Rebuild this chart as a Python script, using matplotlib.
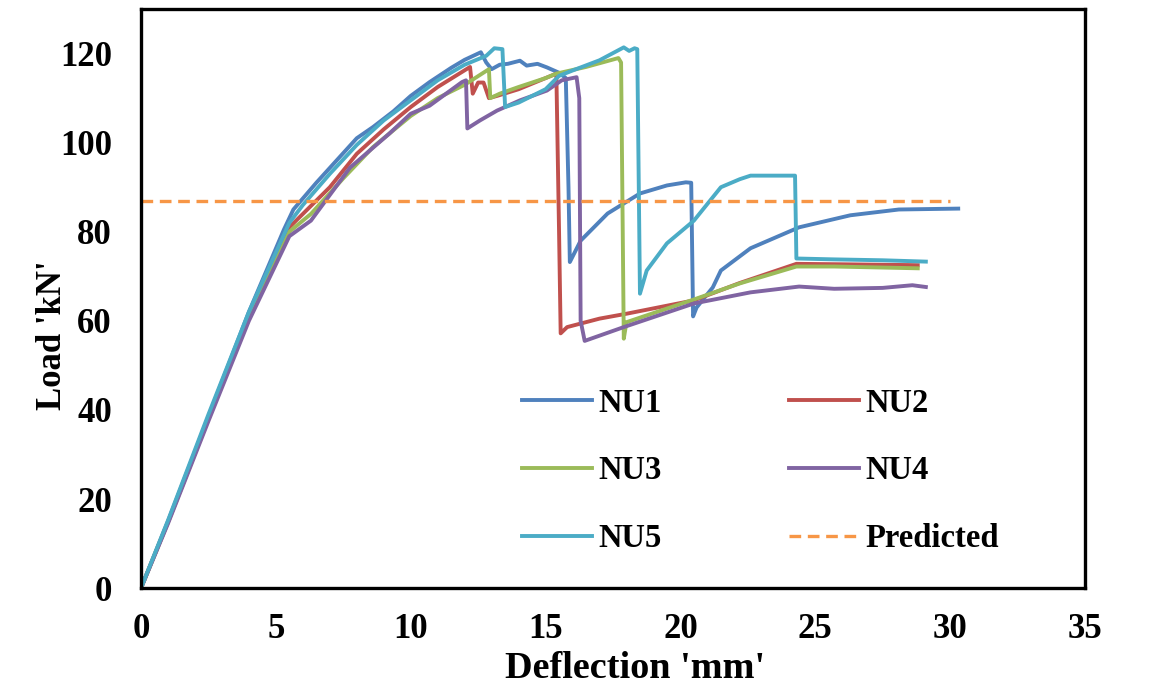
import matplotlib.pyplot as plt

plt.rcParams['font.family'] = ['Liberation Serif', 'DejaVu Serif']
plt.rcParams['font.weight'] = 'bold'

# load-deflection records for the five specimens (mm, kN)
nu1_x = [0, 1, 2.5, 4, 5.3, 5.65, 6.5, 7.4, 8, 8.6, 9.35, 10, 10.7, 11.5, 12, 12.6,
         12.8, 13.0, 13.3, 13.6, 14.05, 14.3, 14.7, 15.05, 15.5, 15.75, 15.85, 15.9,
         16.3, 17.3, 18.5, 19.5, 20.2, 20.4, 20.47, 20.6, 21.2, 21.5, 22.6, 24.4,
         26.3, 28.1, 30.3]
nu1_y = [0, 15, 38.5, 62, 80.5, 85, 91, 97, 101, 103.5, 107, 110.5, 113.6, 116.8, 118.6, 120.3,
         118, 116.5, 117.5, 117.7, 118.4, 117.3, 117.7, 116.9, 115.7, 114.5, 90, 73.2,
         78, 84.1, 88.6, 90.4, 91.1, 91, 61, 63, 67.5, 71.3, 76.3, 81,
         83.7, 85, 85.2]

nu2_x = [0, 1, 2.5, 4, 5.5, 6, 7, 8, 9, 10, 11, 12.2, 12.3, 12.5, 12.7, 12.9,
         13.2, 14, 15, 15.4, 15.5, 15.56, 15.8, 17, 18, 20.5, 22.2, 24.3, 26, 28.8]
nu2_y = [0, 14.8, 38, 61, 81, 84, 90, 97.5, 103, 108, 112.5, 117, 111, 113.5, 113.5, 110,
         110.5, 112, 114.5, 115.5, 80, 57.2, 58.6, 60.5, 61.6, 64.6, 68.5, 72.8, 72.7, 72.5]

nu3_x = [0, 1, 2.5, 4, 5.5, 6.3, 7.5, 8.6, 10, 11, 12, 12.9, 12.95, 13.3, 14, 15,
         15.4, 16.5, 17.7, 17.8, 17.9, 18, 20.5, 22.2, 24.3, 25.7, 28.8]
nu3_y = [0, 14.8, 38, 60.5, 80, 84, 92, 99, 106, 110, 113, 116.5, 110, 111, 112.5, 114.5,
         115.5, 117, 119, 118, 56, 59.7, 64.8, 68.4, 72.2, 72.2, 71.8]

nu4_x = [0, 1, 2.5, 4, 5.5, 6.3, 7.75, 9.2, 10, 10.7, 11.9, 12.05, 12.1, 12.57, 13.2,
         14.05, 15.05, 15.6, 16.15, 16.25, 16.3, 16.45, 17.9, 20.5, 22.6, 24.4, 25.7,
         27.5, 28.6, 29.1]
nu4_y = [0, 14.5, 37.5, 60, 79, 82.5, 94.4, 102, 106.5, 108.3, 113.6, 114, 103.2, 105, 107.2,
         109.5, 111.7, 114, 114.7, 110, 60, 55.5, 58.6, 63.9, 66.4, 67.7, 67.2,
         67.4, 68, 67.6]

nu5_x = [0, 1, 2.5, 4, 5.5, 6, 7, 8, 9, 10, 11, 12, 12.8, 13.1, 13.4, 13.5, 14, 15,
         15.5, 16, 17, 17.9, 18.1, 18.3, 18.4, 18.5, 18.75, 19.5, 20.5, 21.5, 22.2,
         22.6, 24.25, 24.3, 25.7, 27.5, 29.1]
nu5_y = [0, 15.2, 39, 62, 82, 86, 93, 99.5, 105, 109.5, 114, 117.5, 119.5, 121.2, 121, 108, 109, 112,
         115, 116.2, 118.5, 121.4, 120.6, 121.2, 121, 66.1, 71.3, 77.4, 82.5, 90, 91.8,
         92.6, 92.6, 74, 73.8, 73.6, 73.3]

pred_x = [0, 30]
pred_y = [87, 87]

labels = ['NU1', 'NU2', 'NU3', 'NU4', 'NU5', 'Predicted']
colors = ['#4F81BD', '#C0504D', '#9BBB59', '#8064A2', '#4BACC6', '#F79646']

fig = plt.figure(figsize=(11.53, 6.96), dpi=100)
ax = fig.add_axes([0.1223, 0.155, 0.8187, 0.832])

curves = [(nu1_x, nu1_y), (nu2_x, nu2_y), (nu3_x, nu3_y), (nu4_x, nu4_y), (nu5_x, nu5_y)]
handles = []
for (xs, ys), lab, c in zip(curves, labels[:5], colors[:5]):
    h, = ax.plot(xs, ys, color=c, linewidth=2.8, label=lab, solid_joinstyle='round')
    handles.append(h)
h, = ax.plot(pred_x, pred_y, color=colors[5], linewidth=2.4, dashes=(3.5, 2), label=labels[5])
handles.append(h)

ax.set_xlim(0, 35)
ax.set_ylim(0, 130)
ax.set_xticks(range(0, 36, 5))
ax.set_yticks(range(0, 121, 20))
ax.tick_params(length=0, labelsize=25)
ax.tick_params(axis='y', pad=21)
ax.tick_params(axis='x', pad=18)
for s in ax.spines.values():
    s.set_linewidth(2.4)
    s.set_color('black')

ax.set_xlabel("Deflection 'mm'", fontsize=27.5, fontweight='bold')
ax.set_ylabel("Load 'kN'", fontsize=25, fontweight='bold')
ax.xaxis.set_label_coords(0.523, -0.108)
ax.yaxis.set_label_coords(-0.076, 0.436)

# legend reads row by row: NU1 NU2 / NU3 NU4 / NU5 Predicted
order = [0, 2, 4, 1, 3, 5]
ax.legend([handles[i] for i in order], [labels[i] for i in order],
          ncol=2, frameon=False, prop={'size': 23.5, 'weight': 'bold'}, loc='upper left',
          bbox_to_anchor=(0.386, 0.374), borderpad=0, handlelength=2.15,
          handletextpad=0.2, columnspacing=3.9, labelspacing=1.12)

plt.savefig('out.png', dpi=100, facecolor='white')
